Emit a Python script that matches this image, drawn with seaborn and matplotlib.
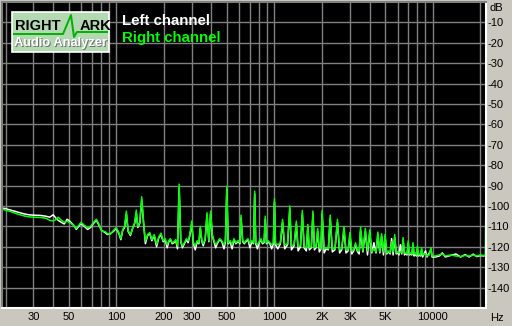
import matplotlib
matplotlib.use("Agg")
import matplotlib.pyplot as plt
import seaborn as sns
import pandas as pd
from matplotlib.lines import Line2D
from matplotlib.patches import Rectangle

# ---------------- data ----------------
freq_hz = [19, 20, 22, 24, 26, 28, 30, 33, 36, 38, 40, 42, 43, 45, 47, 49, 51, 54, 56, 58,
           60, 63, 66, 69, 72, 75, 78, 81, 85, 88, 92, 96, 100, 104, 107, 110, 113, 116, 119, 123,
           127, 131, 134, 137, 141, 145, 149, 153, 158, 163, 168, 174, 180, 186, 192, 198, 204, 210, 215, 220,
           226, 232, 238, 244, 250, 256, 262, 270, 278, 285, 292, 300, 308, 316, 325, 333, 340, 348, 355, 365,
           375, 385, 395, 405, 415, 425, 435, 450, 465, 480, 490, 500, 510, 525, 540, 555, 570, 590, 605, 615,
           630, 645, 660, 680, 700, 720, 738, 750, 762, 780, 800, 820, 840, 860, 875, 890, 910, 935, 960, 985,
           1000, 1015, 1050, 1090, 1125, 1160, 1210, 1250, 1280, 1330, 1375, 1410, 1460, 1500, 1540, 1590, 1625, 1660, 1710, 1750,
           1790, 1830, 1875, 1920, 1965, 2000, 2060, 2120, 2190, 2250, 2320, 2410, 2500, 2580, 2660, 2750, 2830, 2920, 3000, 3080,
           3170, 3250, 3350, 3430, 3500, 3620, 3750, 3870, 4000, 4120, 4250, 4380, 4500, 4630, 4750, 4880, 5000, 5120, 5250, 5380,
           5500, 5620, 5750, 5880, 6000, 6120, 6250, 6370, 6500, 6630, 6750, 6880, 7000, 7130, 7250, 7380, 7500, 7630, 7750, 7880,
           8000, 8130, 8250, 8380, 8500, 8630, 8800, 9000, 9200, 9500, 9750, 9900, 10400, 11000, 11500, 12000, 13000, 14000, 15000, 16000,
           17000, 18000, 19000, 20000, 21000, 21500, 21600]

right_db = [-101.5, -102, -103, -104, -104.8, -105.3, -105.5, -105.6, -106, -107, -107.3, -106.5, -105.5, -107, -108, -107.5, -108.2, -109.5, -111, -109.5,
            -108, -109.5, -110.8, -110, -108, -106.5, -109, -112.3, -112.5, -113.5, -113.9, -112, -110.6, -113, -116, -111.5, -110, -102.5, -112, -114,
            -111, -108, -102, -110, -108, -95.5, -108, -117.2, -114, -113, -116.4, -114, -118.8, -115, -113.3, -117, -116, -119, -117, -116,
            -118, -117.5, -116.5, -119.6, -89.3, -117, -119.6, -118, -116, -117, -114, -107.4, -118, -119.5, -117, -118, -110, -117, -118.5, -116,
            -103.3, -117, -102.5, -114, -117, -118.8, -118, -116, -117, -119, -117, -90.3, -118, -117, -119, -116, -118, -117, -118, -104.5,
            -117, -118, -117, -116, -118.5, -117, -118, -92.7, -118, -119, -117.5, -116, -118, -117.5, -105, -118, -117, -118, -119, -118,
            -96.4, -118.5, -119, -118, -106.6, -119, -118.5, -100, -119.5, -119, -107.4, -120, -119.5, -102.2, -120, -120.5, -109, -120.5, -120, -102.5,
            -120.5, -120, -111, -120.5, -121, -102.2, -121, -120.5, -121, -104.5, -121, -121, -106.6, -121.5, -121, -110, -121.5, -121.5, -113, -122,
            -121.5, -118, -122, -122, -110.3, -122, -111, -122, -111.8, -122.5, -121, -122.5, -112.8, -122.5, -113.6, -122.5, -113.9, -123, -122, -123,
            -117.5, -122.5, -114, -123, -122.5, -123, -122.5, -123, -115.5, -123, -123, -123.5, -117.2, -123.5, -123, -123.5, -118, -123.5, -123, -124,
            -119.6, -124, -123.5, -124, -120.4, -124, -123.5, -123.5, -124.5, -124, -120.4, -124.5, -124.5, -124, -123.5, -124.5, -124, -124.5, -124.8, -124.2,
            -124.6, -124, -124.5, -124, -124.3, -124, -107.4]

left_db = [-101, -101.3, -102.2, -103, -103.8, -104.3, -104.5, -104.6, -105, -105.5, -104.3, -106.3, -107, -108, -108.8, -106.5, -107.5, -109.5, -111.5, -110,
           -108.5, -110, -111.5, -110.5, -108.5, -107, -109.5, -112, -113, -114, -113.5, -112.5, -111, -113.5, -116.5, -112, -110.5, -104, -112.5, -114.5,
           -111, -108.5, -103.5, -110.5, -108.5, -97, -108.5, -118.5, -114.5, -113.5, -117, -114.5, -120, -115.5, -114, -117.5, -116.5, -120.5, -117.5, -116.5,
           -118.5, -118, -117, -121, -91, -117.5, -120.5, -118.5, -116.5, -118, -114.5, -109, -118.5, -121.5, -117.5, -118.5, -111, -117.5, -119.5, -116.5,
           -104.5, -117.5, -104, -114.5, -117.5, -120.5, -118.5, -116.5, -117.5, -121, -117.5, -92, -118.5, -117.5, -121, -116.5, -118.5, -117.5, -118.5, -106,
           -117.5, -118.5, -117.5, -116.5, -120.5, -117.5, -118.5, -94, -118.5, -121, -118, -116.5, -118.5, -118, -106.5, -118.5, -117.5, -118.5, -121, -118.5,
           -98, -119, -121, -118.5, -108, -121, -119, -101.5, -121.5, -119.5, -109, -122, -120, -104, -120.5, -122, -110.5, -121.5, -120.5, -104,
           -121.5, -120.5, -112.5, -122.5, -121, -104, -123, -121, -121.5, -106, -122.5, -121.5, -108, -123, -121.5, -111.5, -123, -122, -114.5, -123.5,
           -122, -119, -122.5, -123.5, -112, -122.5, -112.5, -124, -113, -123, -118, -123, -114, -123, -115, -124, -115, -123.5, -122.5, -123.5,
           -116, -124, -115.5, -123.5, -123, -124, -119, -123.5, -117, -124, -123.5, -124, -118.5, -124, -123.5, -124, -119, -124.5, -123.5, -124.5,
           -121, -124.5, -124, -124.5, -121.5, -125, -123.5, -122, -125, -123, -121.5, -125, -125, -124.5, -123, -125, -124.2, -123.5, -125, -123.8,
           -125, -123.6, -124.8, -124.3, -124.5, -124.2, -124.2]

y_ticks = [-10, -20, -30, -40, -50, -60, -70, -80, -90, -100, -110, -120, -130, -140]
x_grid = [20, 30, 40, 50, 60, 70, 80, 90, 100, 200, 300, 400, 500, 600, 700, 800, 900,
          1000, 2000, 3000, 4000, 5000, 6000, 7000, 8000, 9000, 10000, 20000]
x_labels = {30: "30", 50: "50", 100: "100", 200: "200", 300: "300", 500: "500",
            1000: "1000", 2000: "2K", 3000: "3K", 5000: "5K", 10000: "10000"}
series_names = ["Left channel", "Right channel"]

# ---------------- figure ----------------
W, H = 512, 326
BG = "#CAC7BF"
fig = plt.figure(figsize=(W / 100, H / 100), dpi=100, facecolor=BG)
ax = fig.add_axes([2 / W, 1 - 308 / H, 484 / W, 306 / H])
ax.set_facecolor("black")

df = pd.DataFrame({"freq": freq_hz, "left": left_db, "right": right_db})
sns.lineplot(data=df, x="freq", y="left", color="white", lw=1.1, ax=ax, estimator=None)
sns.lineplot(data=df, x="freq", y="right", color="#00FF00", lw=1.1, ax=ax, estimator=None)

ax.set_xscale("log")
ax.set_xlim(19, 21700)
ax.set_ylim(-150, 0)
ax.set_xlabel("")
ax.set_ylabel("")

ax.set_xticks(x_grid)
ax.set_xticklabels([x_labels.get(v, "") for v in x_grid])
ax.xaxis.set_minor_locator(matplotlib.ticker.NullLocator())
ax.set_yticks(y_ticks)
ax.set_yticklabels([str(v) for v in y_ticks])
ax.yaxis.tick_right()
ax.tick_params(axis="both", length=0, labelsize=8, labelcolor="black")
ax.tick_params(axis="x", pad=3)
ax.tick_params(axis="y", pad=1)
for lab in ax.get_xticklabels() + ax.get_yticklabels():
    lab.set_fontfamily("Liberation Sans")
ax.grid(True, color="#808080", lw=1.0)
ax.set_axisbelow(True)

for s in ["left", "top"]:
    ax.spines[s].set_color("#808080")
    ax.spines[s].set_linewidth(1.5)
for s in ["right", "bottom"]:
    ax.spines[s].set_color("white")
    ax.spines[s].set_linewidth(1.5)

def px(x, y):
    return x / W, 1 - y / H

fig.text(*px(489, 8), "dB", fontsize=8, family="Liberation Sans", va="center", ha="left")
fig.text(*px(497, 318), "Hz", fontsize=8, family="Liberation Sans", va="center", ha="center")

# legend texts
fig.text(*px(122, 21), series_names[0], color="white", fontsize=10.8, fontweight="bold",
         family="Liberation Sans", va="center", ha="left")
fig.text(*px(122, 38), series_names[1], color="#00FF00", fontsize=10.8, fontweight="bold",
         family="Liberation Sans", va="center", ha="left")

# RightMark logo
x0, y0 = px(12, 52)
fig.add_artist(Rectangle((x0, y0), 97 / W, 40 / H, transform=fig.transFigure,
                         facecolor="#B3D9B3", edgecolor="white", lw=1.2))
lx = [14, 63, 71, 74, 77, 107]
ly = [34, 34, 15, 37, 32, 32]
fig.add_artist(Line2D([v / W for v in lx], [1 - v / H for v in ly], transform=fig.transFigure,
                      color="#00B000", lw=1.4))
fig.text(*px(15, 26.5), "RIGHT", fontsize=10.5, fontweight="bold", family="Liberation Sans",
         color="black", va="center", ha="left")
fig.text(*px(80, 26.5), "ARK", fontsize=10.5, fontweight="bold", family="Liberation Sans",
         color="black", va="center", ha="left")
fig.text(*px(61.5, 43.5), "Audio Analyzer", fontsize=9.3, fontweight="bold", family="Liberation Sans",
         color="#707070", va="center", ha="center")
fig.text(*px(61, 43), "Audio Analyzer", fontsize=9.3, fontweight="bold", family="Liberation Sans",
         color="white", va="center", ha="center")

fig.savefig("out.png", dpi=100, facecolor=BG)
